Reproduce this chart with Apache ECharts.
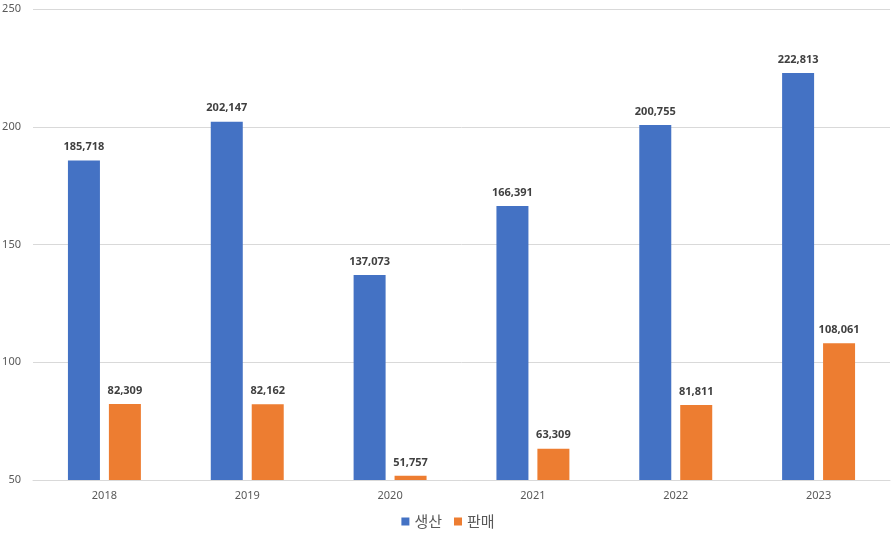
<!DOCTYPE html>
<html><head><meta charset="utf-8">
<script src="https://cdn.jsdelivr.net/npm/echarts@6/dist/echarts.min.js"></script>
<style>html,body{margin:0;padding:0;background:#fff}#c{width:896px;height:538px}</style>
</head><body><div id="c"></div>
<script>
const categories = ['2018','2019','2020','2021','2022','2023'];
const production = [185.718, 202.147, 137.073, 166.391, 200.755, 222.813];
const sales = [82.309, 82.162, 51.757, 63.309, 81.811, 108.061];
const seriesNames = ['생산', '판매'];
const yTicks = [50, 100, 150, 200, 250];

const fmt = p => Math.round(p.value * 1000).toLocaleString('en-US');
const font = '"Noto Sans", "Noto Sans CJK KR", sans-serif';
const labelCfg = {show: true, position: 'top', distance: 8, formatter: fmt, color: '#404040', fontWeight: 'bold', fontSize: 11, fontFamily: font};

const chart = echarts.init(document.getElementById('c'));
chart.setOption({
  animation: false,
  textStyle: {fontFamily: font},
  grid: {left: 33, right: 6, top: 9, bottom: 58, containLabel: false, outerBoundsMode: 'none'},
  legend: {
    data: seriesNames, bottom: 4, left: 'center', itemWidth: 8, itemHeight: 8, itemGap: 12,
    icon: 'rect', textStyle: {fontSize: 15, color: '#595959', fontFamily: '"Noto Sans CJK KR", sans-serif'}
  },
  xAxis: {
    type: 'category', data: categories,
    axisLine: {lineStyle: {color: '#d9d9d9'}}, axisTick: {show: false},
    axisLabel: {color: '#595959', fontSize: 11, margin: 10}
  },
  yAxis: {
    type: 'value', min: yTicks[0], max: yTicks[yTicks.length - 1], interval: 50,
    axisLine: {show: false}, axisTick: {show: false},
    axisLabel: {color: '#595959', fontSize: 11, margin: 12},
    splitLine: {lineStyle: {color: '#d9d9d9'}}
  },
  series: [
    {name: seriesNames[0], type: 'bar', data: production, barWidth: 32, barGap: '28%', itemStyle: {color: '#4472c4'}, label: labelCfg},
    {name: seriesNames[1], type: 'bar', data: sales, barWidth: 32, barGap: '28%', itemStyle: {color: '#ed7d31'}, label: labelCfg}
  ]
});
</script></body></html>
